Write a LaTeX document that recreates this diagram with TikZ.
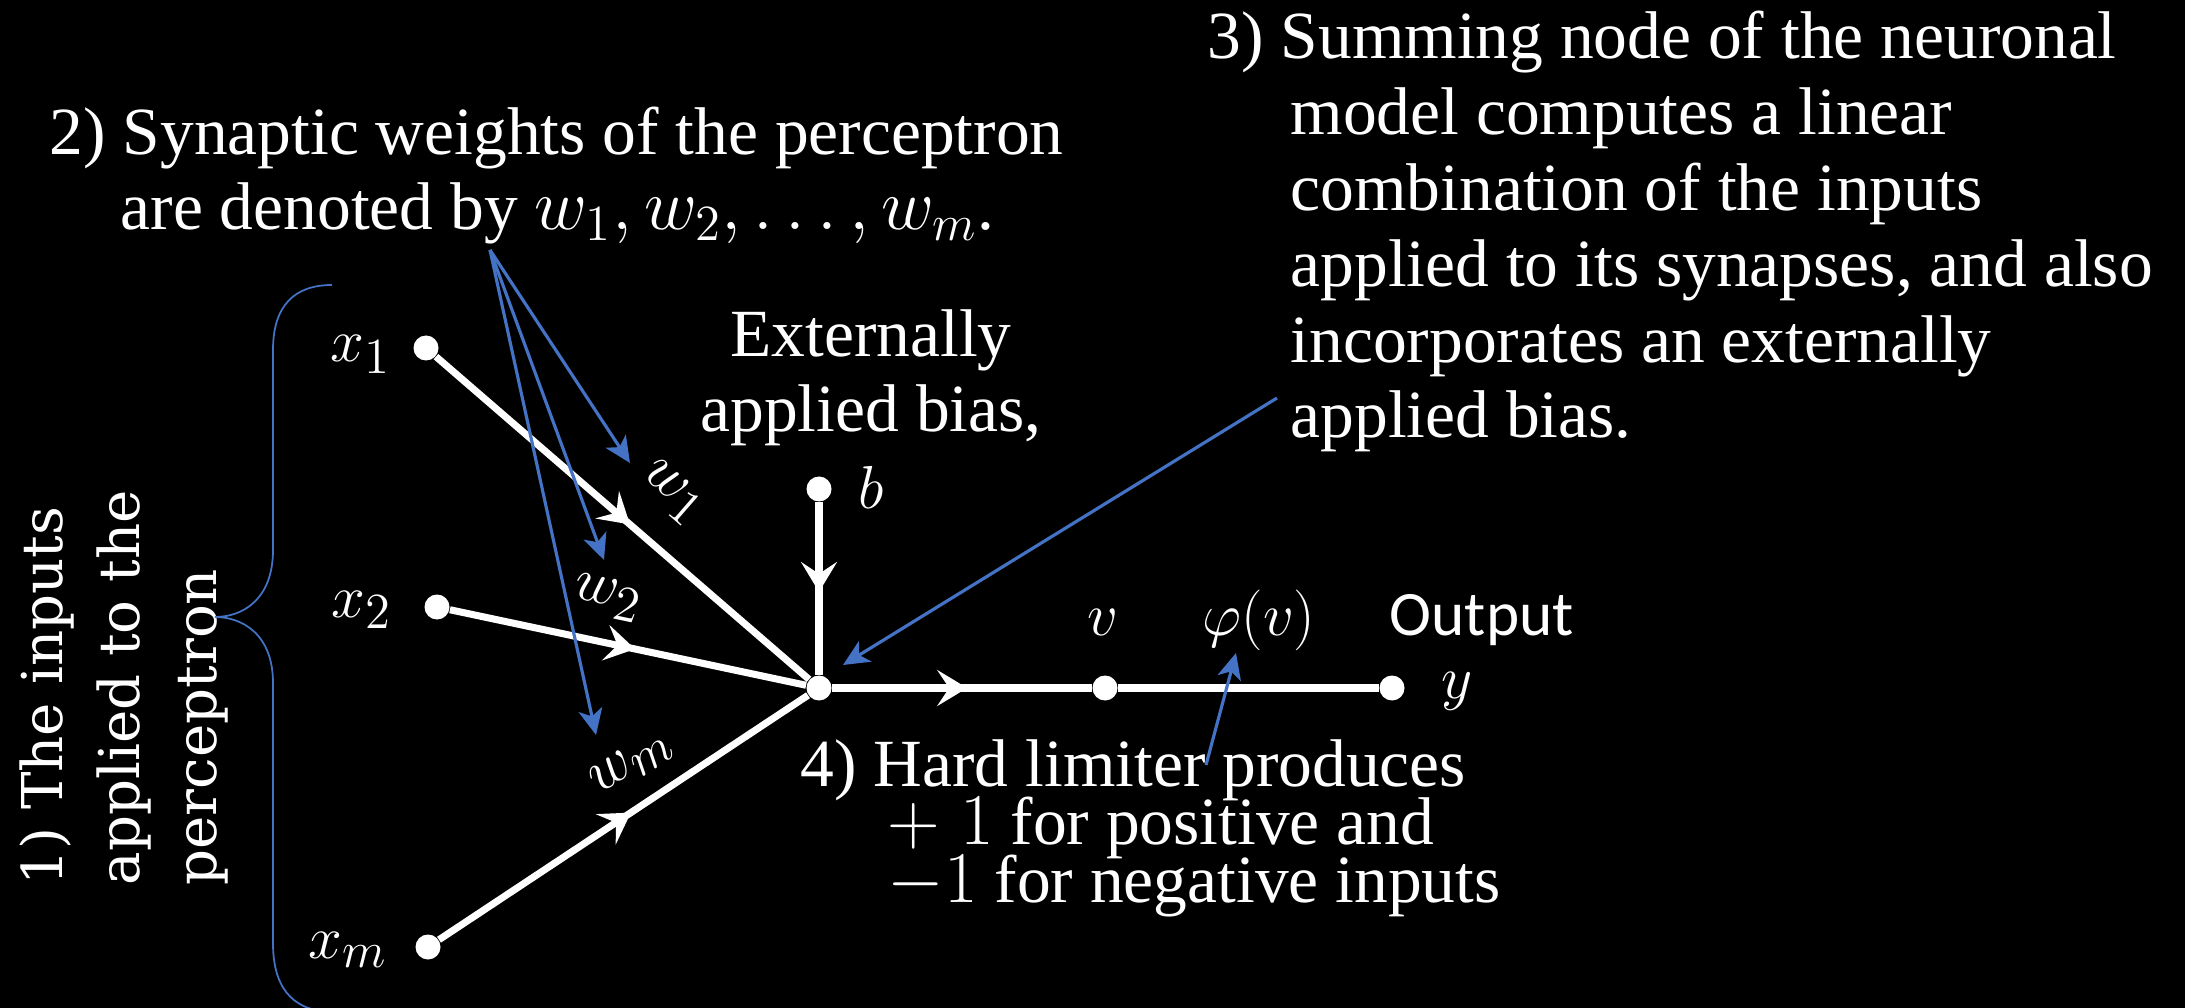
\documentclass[tikz,border=0pt]{standalone}
\usepackage{fontspec}
\setmainfont{Liberation Serif}
\newfontfamily\sidefont{DejaVu Serif}
\newfontfamily\outfont{Carlito}
\usetikzlibrary{arrows.meta,decorations.markings}
\definecolor{noteblue}{RGB}{68,114,196}
\newcommand\tightlines{\lineskiplimit-20pt\relax}

\begin{document}
\begin{tikzpicture}[x=1cm,y=-1cm,
  dot/.style={circle,fill=white,inner sep=0pt,minimum size=0.25cm},
  wire/.style={white,line width=2pt},
  flow/.style={wire,postaction={decorate},decoration={markings,
      mark=at position 0.52 with {\arrow{Stealth[length=0.3cm,width=0.36cm,inset=0.12cm]}}}},
  lbl/.style={text=white,inner sep=0pt,font=\fontsize{19}{22}\selectfont},
  txt/.style={text=white,inner sep=0pt,align=left,font=\fontsize{19.2}{21.6}\selectfont},
  note/.style={noteblue,line width=0.9pt,-{Stealth[length=0.26cm,width=0.24cm,inset=0.07cm]}}]
  % 背景
  \fill[black] (0,0) rectangle (21.85,10.08);
  \useasboundingbox (0,0) rectangle (21.85,10.08);
  % 输入点、偏置点、求和点、输出点
  \node[dot] (x1) at (4.26,3.48) {};
  \node[dot] (x2) at (4.37,6.07) {};
  \node[dot] (xm) at (4.28,9.47) {};
  \node[dot] (b) at (8.19,4.89) {};
  \node[dot] (sum) at (8.19,6.88) {};
  \node[dot] (v) at (11.05,6.88) {};
  \node[dot] (y) at (13.92,6.88) {};
  % 白色连线（中间带箭头）
  \draw[flow] (x1) -- (sum);
  \draw[flow] (x2) -- (sum);
  \draw[flow] (xm) -- (sum);
  \draw[flow] (b) -- (sum);
  \draw[flow] (sum) -- (v);
  \draw[wire] (v) -- (y);
  % 符号标注
  \node[lbl,anchor=base] (lx1) at (3.61,3.62) {$x_1$};
  \node[lbl,anchor=base] (lx2) at (3.62,6.17) {$x_2$};
  \node[lbl,anchor=base] (lxm) at (3.48,9.58) {$x_m$};
  \node[lbl,anchor=base] (lb) at (8.71,5.08) {$b$};
  \node[lbl,rotate=-41] (lw1) at (6.72,4.93) {$w_1$};
  \node[lbl,rotate=-12] (lw2) at (6.08,5.98) {$w_2$};
  \node[lbl,rotate=33] (lwm) at (6.32,7.63) {$w_m$};
  \node[lbl,anchor=base] (lv) at (11.03,6.35) {$v$};
  \node[lbl,anchor=base] (lphi) at (12.59,6.35) {$\varphi(v)$};
  \node[lbl,anchor=base] (ly) at (14.57,6.98) {$y$};
  \node[lbl,anchor=base west,font=\outfont\fontsize{18}{21}\selectfont] (lout) at (13.89,6.35) {Output};
  % 说明文字（多行结点以最后一行基线定位）
  \node[txt,anchor=base west] (syn) at (0.49,2.30)
    {2)~Synaptic weights of the perceptron\\\hspace*{0.71cm}are denoted by $w_1, w_2, \dots , w_m$.};
  \node[txt,anchor=base west] (summ) at (12.07,4.38)
    {3)~Summing node of the neuronal\\\hspace*{0.83cm}model computes a linear\\\hspace*{0.83cm}combination of the inputs\\\hspace*{0.83cm}applied to its synapses, and also\\\hspace*{0.83cm}incorporates an externally\\\hspace*{0.83cm}applied bias.};
  \node[txt,anchor=base west,font={\fontsize{19.2}{16.5}\selectfont\tightlines}] (lim) at (8.00,9.02)
    {4)~Hard limiter produces\\\hspace*{0.87cm}$+\;1$ for positive and\\\hspace*{0.87cm}$-1$ for negative inputs};
  \node[txt,align=center,anchor=base] (bias) at (8.71,4.32) {Externally\\applied bias,};
  \node[txt,rotate=90,anchor=base west,font=\sidefont\fontsize{16}{21.8}\selectfont] (inp) at (2.16,8.86)
    {1) The inputs\\applied to the\\perceptron};
  % 蓝色花括号
  \draw[noteblue,line width=0.5pt] (3.32,2.85) .. controls (2.95,2.85) and (2.73,3.05) .. (2.73,3.50)
    -- (2.73,5.50) .. controls (2.73,6.00) and (2.42,6.17) .. (2.15,6.17)
    .. controls (2.42,6.17) and (2.73,6.34) .. (2.73,6.83)
    -- (2.73,9.43) .. controls (2.73,9.85) and (2.90,10.10) .. (3.30,10.12);
  % 蓝色指示箭头
  \coordinate (wsrc) at (4.90,2.50);
  \coordinate (tw1) at (6.30,4.63);
  \coordinate (tw2) at (6.04,5.60);
  \coordinate (twm) at (5.96,7.35);
  \coordinate (s3) at (12.77,3.98);
  \coordinate (tsum) at (8.43,6.65);
  \coordinate (s4) at (12.06,7.65);
  \coordinate (tphi) at (12.36,6.53);
  \draw[note] (wsrc) -- (tw1);
  \draw[note] (wsrc) -- (tw2);
  \draw[note] (wsrc) -- (twm);
  \draw[note] (s3) -- (tsum);
  \draw[note] (s4) -- (tphi);
\end{tikzpicture}
\end{document}
